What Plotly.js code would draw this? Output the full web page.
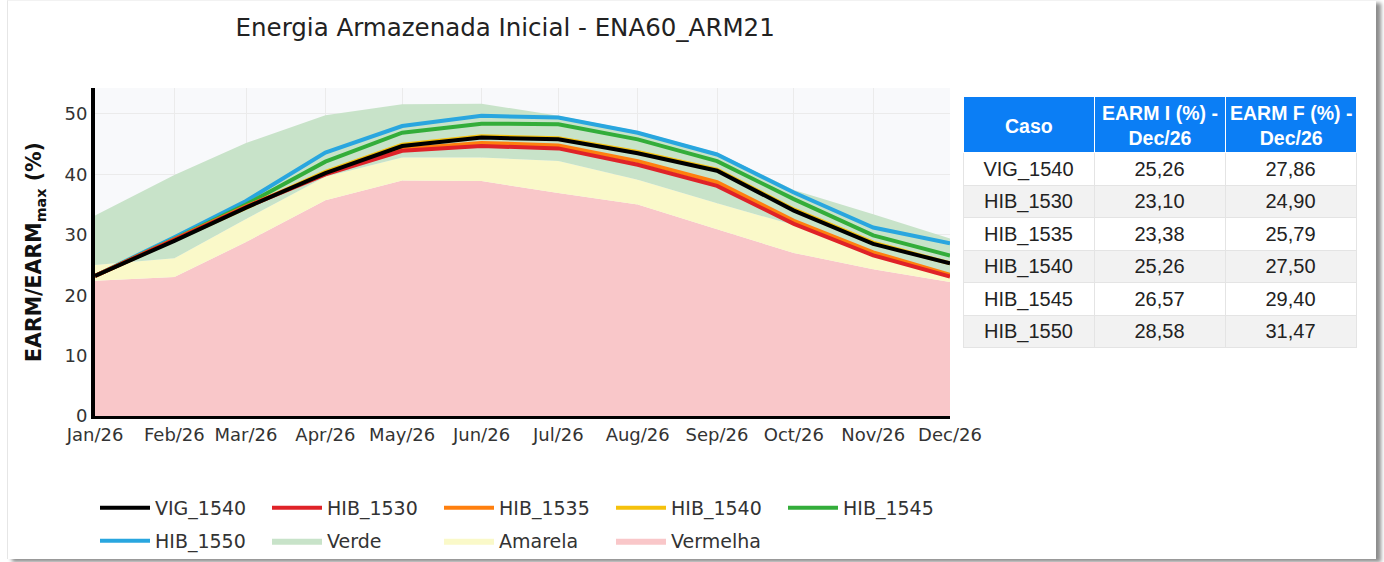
<!DOCTYPE html>
<html><head><meta charset="utf-8">
<script src="https://cdn.plot.ly/plotly-3.0.1.min.js"></script>
<style>
html,body{margin:0;padding:0;background:#fff;}
#frame{position:absolute;left:7px;top:0;width:1368px;height:558px;border-left:1px solid #e6e6e6;border-top:1px solid #f2f2f2;box-shadow:5px 3px 4px rgba(0,0,0,0.45);background:#fff;}
#chart{position:absolute;left:0;top:0;width:1384px;height:562px;}
</style></head><body>
<div id="frame"></div>
<div id="chart"></div>
<script>
// ---- data ----
const months = ['2026-01-01','2026-02-01','2026-03-01','2026-04-01','2026-05-01','2026-06-01',
                '2026-07-01','2026-08-01','2026-09-01','2026-10-01','2026-11-01','2026-12-01'];
const vig1540 = [23.2, 29.0, 34.5, 40.2, 44.7, 46.1, 45.8, 43.5, 40.6, 34.0, 28.5, 25.26];
const hib1530 = [23.2, 29.2, 34.6, 40.0, 43.9, 44.7, 44.3, 41.6, 38.1, 31.8, 26.6, 23.10];
const hib1535 = [23.2, 29.2, 34.7, 40.1, 44.2, 45.2, 44.8, 42.2, 38.7, 32.3, 27.1, 23.38];
const hib1540 = [23.2, 29.1, 34.6, 40.4, 44.9, 46.3, 46.0, 43.7, 40.8, 34.2, 28.7, 25.26];
const hib1545 = [23.2, 29.3, 35.0, 42.1, 46.9, 48.4, 48.3, 45.8, 42.2, 35.9, 29.9, 26.57];
const hib1550 = [23.2, 29.6, 35.6, 43.6, 48.0, 49.7, 49.4, 46.9, 43.3, 37.0, 31.2, 28.58];
const verdeTop    = [33.2, 39.9, 45.2, 49.8, 51.6, 51.7, 49.7, 47.2, 43.6, 37.4, 33.4, 29.4];
const amarelaTop  = [25.0, 26.1, 32.6, 39.6, 42.8, 42.8, 42.2, 39.1, 35.2, 31.6, 26.8, 23.6];
const vermelhaTop = [22.4, 23.0, 28.8, 35.7, 39.0, 38.9, 36.9, 35.0, 30.9, 27.0, 24.3, 22.2];

const casos = ['VIG_1540','HIB_1530','HIB_1535','HIB_1540','HIB_1545','HIB_1550'];
const earmI = ['25,26','23,10','23,38','25,26','26,57','28,58'];
const earmF = ['27,86','24,90','25,79','27,50','29,40','31,47'];
const tableHeader = ['Caso','EARM I (%) -<br>Dec/26','EARM F (%) -<br>Dec/26'];

// ---- traces ----
function band(name, y, fill, color, rank){
  return {x: months, y: y, name: name, type:'scatter', mode:'lines', fill: fill,
          fillcolor: color, line:{width:0, color: color}, legend:'legend2', legendrank: rank,
          hoverinfo:'skip'};
}
function line(name, y, color, rank, lg){
  return {x: months, y: y, name: name, type:'scatter', mode:'lines',
          line:{width:4, color: color}, legend: lg, legendrank: rank};
}
const rowFill = casos.map((c,i)=> i%2===0 ? '#ffffff' : '#f2f2f2');
const tblX = [0.6878, 1.0];
const data = [
  band('Vermelha', vermelhaTop, 'tozeroy', 'rgb(249,199,201)', 9),
  band('Amarela', amarelaTop, 'tonexty', 'rgb(250,249,201)', 8),
  band('Verde', verdeTop, 'tonexty', 'rgb(200,227,201)', 7),
  line('HIB_1550', hib1550, '#29a6df', 6, 'legend2'),
  line('HIB_1545', hib1545, '#33ad3a', 5, 'legend'),
  line('HIB_1540', hib1540, '#f5c10c', 4, 'legend'),
  line('HIB_1535', hib1535, '#ff7f0e', 3, 'legend'),
  line('HIB_1530', hib1530, '#df2228', 2, 'legend'),
  line('VIG_1540', vig1540, '#000000', 1, 'legend'),
  {type:'table', domain:{x:tblX, y:[0.05,0.9726]}, columnwidth:[1,1,1],
   header:{values: tableHeader.map(()=>''), fill:{color:'#0b7ef5'},
           font:{family:'Liberation Sans, Arial', size:19, color:'#ffffff'}, align:'center',
           height:56, line:{color:'#ffffff', width:1}},
   cells:{values:[casos, earmI, earmF], fill:{color:[rowFill,rowFill,rowFill]},
          font:{family:'Liberation Sans, Arial', size:20, color:'#222222'}, align:'center',
          height:32.5, line:{color:'#e4e4e4', width:1}}}
];

const legendBase = {orientation:'h', x:0, xanchor:'left', yanchor:'top',
  font:{size:19, color:'#333', family:'DejaVu Sans'}, itemwidth:50, entrywidth:107,
  bgcolor:'rgba(0,0,0,0)', traceorder:'normal'};

// header labels, centred on each table column
const colW = (tblX[1]-tblX[0]) / tableHeader.length;
const headerAnn = tableHeader.map((t,i)=>({
  text:'<b>'+t+'</b>', xref:'paper', yref:'paper', x: tblX[0] + (i+0.5)*colW,
  y:(416-125.5)/328, xanchor:'center', yanchor:'middle', align:'center', showarrow:false,
  font:{family:'Liberation Sans, Arial', size:19.5, color:'#ffffff'}}));

const layout = {
  width:1384, height:562,
  paper_bgcolor:'rgba(0,0,0,0)', plot_bgcolor:'#f8f9fb',
  margin:{l:95, r:27, t:88, b:146, autoexpand:false},
  font:{family:'DejaVu Sans', color:'#333'},
  title:{text:'Energia Armazenada Inicial - ENA60_ARM21', font:{size:24.5, color:'#222'},
         x:0.325, xref:'paper', xanchor:'center', y:0.952, yref:'container', yanchor:'middle'},
  xaxis:{domain:[0,0.6775], type:'date', range:['2026-01-01','2026-12-01'], dtick:'M1',
         tick0:'2026-01-01', tickformat:'%b/%y', tickfont:{size:18, color:'#333'},
         showline:true, linecolor:'#000', linewidth:3, gridcolor:'#ebebeb', zeroline:false},
  yaxis:{range:[0,54.3], dtick:10, tickfont:{size:18, color:'#333'}, showline:true,
         linewidth:4, linecolor:'#000', gridcolor:'#ebebeb', zeroline:false,
         title:{text:'<b>EARM/EARM<sub>max</sub> (%)</b>', font:{size:20.5, color:'#111'}, standoff:18}},
  legend: Object.assign({}, legendBase, {y:-0.2226}),
  legend2: Object.assign({}, legendBase, {y:-0.3232}),
  annotations: headerAnn,
  showlegend:true
};
Plotly.newPlot('chart', data, layout, {displayModeBar:false, staticPlot:true});
</script>
</body></html>
